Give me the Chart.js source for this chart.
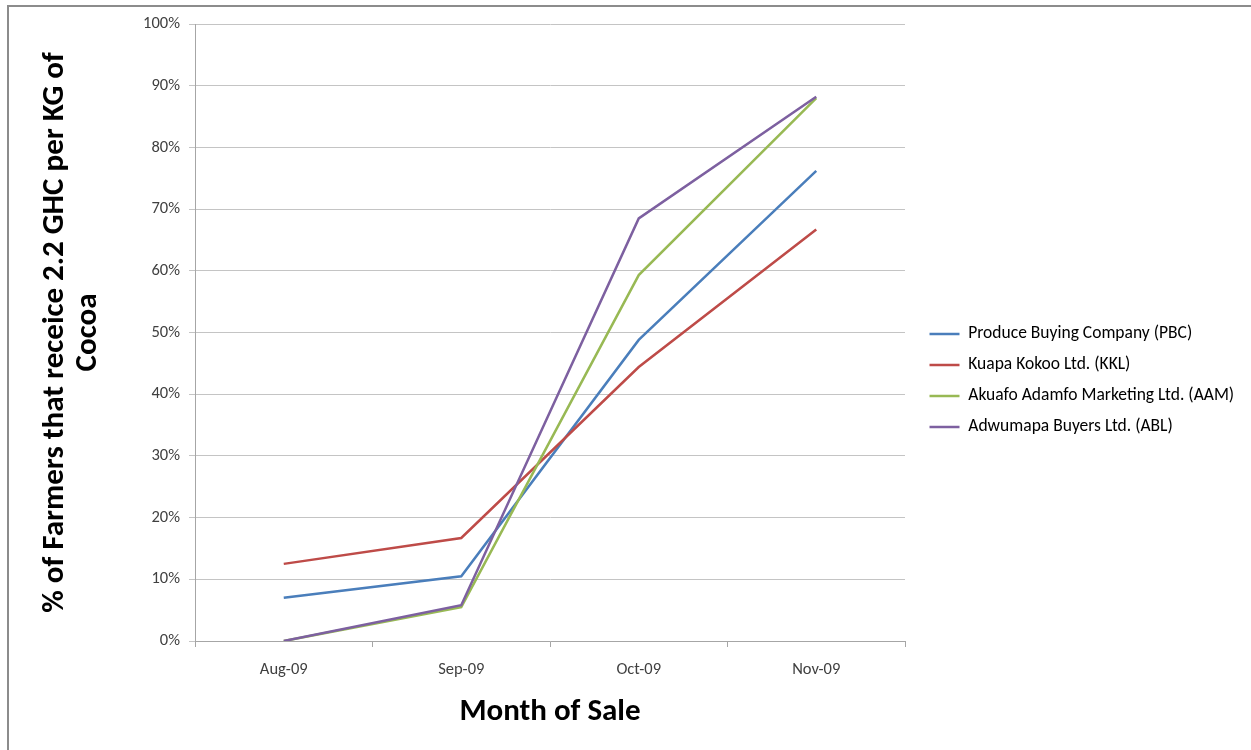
<!DOCTYPE html>
<html>
<head>
<meta charset="utf-8">
<script src="https://cdn.jsdelivr.net/npm/chart.js@4.4.1/dist/chart.umd.min.js"></script>
<style>
  body { margin: 0; background: #fff; }
  #frame { position: absolute; left: 7px; top: 5px; width: 1300px; height: 800px;
           border-left: 2px solid #8c8c8c; border-top: 2px solid #8c8c8c; }
  #wrap { position: absolute; left: 0; top: 0; width: 1251px; height: 750px; }
</style>
</head>
<body>
<div id="frame"></div>
<div id="wrap"><canvas id="myChart" width="1251" height="750"></canvas></div>
<script>
// months on the x axis
const months = ['Aug-09', 'Sep-09', 'Oct-09', 'Nov-09'];

// % of farmers per buying company
const pbc = [7.0, 10.5, 48.8, 76.2];
const kkl = [12.5, 16.7, 44.4, 66.7];
const aam = [0, 5.5, 59.3, 88.0];
const abl = [0, 5.8, 68.5, 88.2];

const seriesNames = [
  'Produce Buying Company (PBC)',
  'Kuapa Kokoo Ltd. (KKL)',
  'Akuafo Adamfo Marketing Ltd. (AAM)',
  'Adwumapa Buyers Ltd. (ABL)'
];
const seriesColors = ['#4A7EBB', '#BE4B48', '#98B954', '#7D60A0'];

const yMin = 0, yMax = 100, yStep = 10;

const FONT = 'Carlito, Lato, "Open Sans", sans-serif';

// legend box gets clamped to a narrow width, so let it run to the canvas edge
const wideLegend = {
  id: 'wideLegend',
  afterLayout(chart) {
    const lg = chart.legend;
    if (!lg) return;
    lg.right = chart.width;
    lg.width = lg.right - lg.left;
  }
};

const loadChart = () => {
  var ctx = document.getElementById('myChart').getContext('2d');
  var values = [pbc, kkl, aam, abl];
  var chart = new Chart(ctx, {
    type: 'line',
    data: {
      labels: months,
      datasets: values.map((v, i) => ({
        label: seriesNames[i],
        data: v,
        borderColor: seriesColors[i],
        backgroundColor: seriesColors[i],
        borderWidth: 2.5,
        pointRadius: 0,
        tension: 0,
        order: values.length - i   // later series drawn on top, like Excel
      }))
    },
    options: {
      responsive: false,
      animation: false,
      // right padding puts the legend next to the plot, where Excel had it
      layout: { padding: { top: 24, right: 151.8, bottom: 0, left: 0 } },
      plugins: {
        tooltip: { enabled: false },
        legend: {
          position: 'right',
          align: 'center',
          fullSize: false,
          title: { display: true, text: ' ', font: { size: 12 }, padding: { top: 81.6, bottom: 0 } },
          labels: {
            usePointStyle: true,
            pointStyle: 'line',
            pointStyleWidth: 30,
            padding: 13.5,
            color: '#000',
            font: { family: FONT, size: 17.5 },
            sort: (a, b) => a.datasetIndex - b.datasetIndex
          }
        }
      },
      scales: {
        x: {
          type: 'category',
          offset: true,
          grid: { offset: true, drawOnChartArea: false, tickLength: 6, color: '#A6A6A6' },
          border: { color: '#A6A6A6' },
          ticks: { color: '#404040', font: { family: FONT, size: 16.5 }, padding: 13, maxRotation: 0 },
          title: {
            display: true, text: 'Month of Sale', color: '#000',
            font: { family: FONT, size: 31, weight: 'bold' },
            padding: { top: 0, bottom: 19.4 }
          },
          afterFit: (s) => { s.height = 109; }
        },
        y: {
          min: yMin, max: yMax,
          ticks: { stepSize: yStep, color: '#404040', font: { family: FONT, size: 16.5 }, padding: 9,
                   callback: (v) => v + '%' },
          grid: { color: '#C4C4C4', tickLength: 6 },
          border: { color: '#A6A6A6' },
          title: {
            display: true,
            text: ['% of Farmers that receice 2.2 GHC per KG of', 'Cocoa'],
            color: '#000',
            font: { family: FONT, size: 31, weight: 'bold', lineHeight: 1.065 },
            padding: { top: 38.5, bottom: 0 }
          },
          afterFit: (s) => { s.width = 195; }
        },
        gap: {
          type: 'linear', position: 'right', display: true,
          grid: { display: false }, ticks: { display: false }, border: { display: false },
          afterFit: (s) => { s.width = 11; }
        }
      }
    },
    plugins: [wideLegend]
  });
  return chart;
};

loadChart();
</script>
</body>
</html>
